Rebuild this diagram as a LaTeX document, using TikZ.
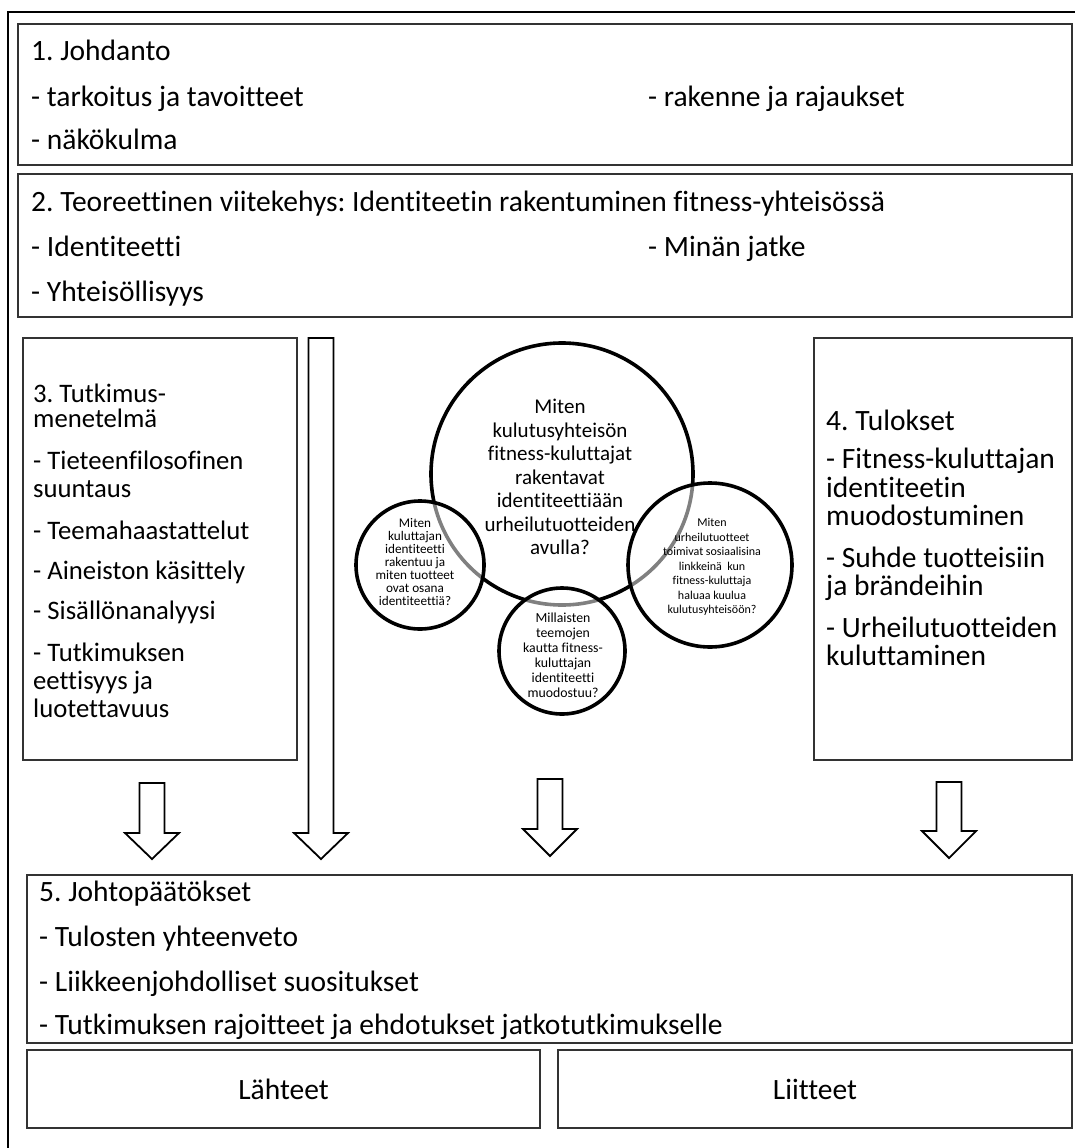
\documentclass[tikz,border=0pt]{standalone}
\usepackage{fontspec}
\setmainfont{Carlito}[Ligatures=NoCommon]
\frenchspacing
\begin{document}
\begin{tikzpicture}[x=1pt,y=-1pt,
  box/.style={draw=black!80, line width=1.3pt, rectangle, inner sep=0pt, outer sep=0pt, anchor=north west},
  txt/.style={inner sep=0pt, anchor=base west, font=\fontsize{29.5}{30}\selectfont},
  txtc/.style={txt, font=\fontsize{26.7}{28}\selectfont},
  txtd/.style={txt, font=\fontsize{29.5}{28}\selectfont},
  bigc/.style={circle, draw=black, line width=3.6pt, inner sep=0pt, minimum size=#1},
  smallc/.style={circle, draw=black, line width=3.6pt, fill=white, fill opacity=0.5, inner sep=0pt, minimum size=#1},
  arr/.style={draw=black, line width=1.8pt, fill=white, line join=miter}
]
\useasboundingbox (0,0) rectangle (1074,1148);
% outer frame
\draw[line width=1.8pt] (8,1170) -- (8,12) -- (1090,12);

% boxes
\node[box, minimum width=1054pt, minimum height=141pt] (b1) at (18,24) {};
\node[box, minimum width=1054pt, minimum height=143pt] (b2) at (18,174) {};
\node[box, minimum width=274pt, minimum height=422pt] (b3) at (23,338) {};
\node[box, minimum width=258pt, minimum height=422pt] (b4) at (814,338) {};
\node[box, minimum width=1045pt, minimum height=168pt] (b5) at (27,875) {};
\node[box, minimum width=513pt, minimum height=78pt, font=\fontsize{29.5}{30}\selectfont] (b6) at (27,1050) {Lähteet};
\node[box, minimum width=514pt, minimum height=78pt, font=\fontsize{29.5}{30}\selectfont] (b7) at (558,1050) {Liitteet};

% box 1 text
\node[txt] (t1a) at (31,61) {1. Johdanto};
\node[txt] (t1b) at (31,106) {- tarkoitus ja tavoitteet};
\node[txt] (t1c) at (648,106) {- rakenne ja rajaukset};
\node[txt] (t1d) at (31,149) {- näkökulma};
% box 2 text
\node[txt] (t2a) at (31,211) {2. Teoreettinen viitekehys: Identiteetin rakentuminen fitness-yhteisössä};
\node[txt] (t2b) at (31,256) {- Identiteetti};
\node[txt] (t2c) at (648,256) {- Minän jatke};
\node[txt] (t2d) at (31,301) {- Yhteisöllisyys};
% box 3 text
\node[txtc] (t3a) at (33,402) {3. Tutkimus-};
\node[txtc] (t3b) at (33,427) {menetelmä};
\node[txtc] (t3c) at (33,469) {- Tieteenfilosofinen};
\node[txtc] (t3d) at (33,497) {suuntaus};
\node[txtc] (t3e) at (33,539) {- Teemahaastattelut};
\node[txtc] (t3f) at (33,579) {- Aineiston käsittely};
\node[txtc] (t3g) at (33,619) {- Sisällönanalyysi};
\node[txtc] (t3h) at (33,661) {- Tutkimuksen};
\node[txtc] (t3i) at (33,689) {eettisyys ja};
\node[txtc] (t3j) at (33,717) {luotettavuus};
% box 4 text
\node[txtd] (t4a) at (826,430) {4. Tulokset};
\node[txtd] (t4b) at (826,468) {- Fitness-kuluttajan};
\node[txtd] (t4c) at (826,497) {identiteetin};
\node[txtd] (t4d) at (826,525) {muodostuminen};
\node[txtd] (t4e) at (826,567) {- Suhde tuotteisiin};
\node[txtd] (t4f) at (826,595) {ja brändeihin};
\node[txtd] (t4g) at (826,637) {- Urheilutuotteiden};
\node[txtd] (t4h) at (826,665) {kuluttaminen};
% box 5 text
\node[txt] (t5a) at (39,901) {5. Johtopäätökset};
\node[txt] (t5b) at (39,946) {- Tulosten yhteenveto};
\node[txt] (t5c) at (39,991) {- Liikkeenjohdolliset suositukset};
\node[txt] (t5d) at (39,1034) {- Tutkimuksen rajoitteet ja ehdotukset jatkotutkimukselle};

% circles
\node[bigc=262pt] (cbig) at (562,474) {};
\node[inner sep=0pt, align=center, font=\fontsize{21}{23.5}\selectfont] (tbig) at (560,477)
  {Miten\\kulutusyhteisön\\fitness-kuluttajat\\rakentavat\\identiteettiään\\urheilutuotteiden\\avulla?};
\node[smallc=128pt] (cleft) at (420,565) {};
\node[smallc=126pt] (cbot) at (562,651) {};
\node[smallc=164pt] (cright) at (710,565) {};
\node[inner sep=0pt, align=center, font=\fontsize{13.2}{12.9}\selectfont] (tleft) at (415,562)
  {Miten\\kuluttajan\\identiteetti\\rakentuu ja\\miten tuotteet\\ovat osana\\identiteettiä?};
\node[inner sep=0pt, align=center, font=\fontsize{13.8}{15}\selectfont] (tbot) at (563,655)
  {Millaisten\\teemojen\\kautta fitness-\\kuluttajan\\identiteetti\\muodostuu?};
\node[inner sep=0pt, align=center, font=\fontsize{12}{14.5}\selectfont] (tright) at (712,567)
  {Miten\\urheilutuotteet\\toimivat sosiaalisina\\linkkeinä\ \ kun\\fitness-kuluttaja\\haluaa kuulua\\kulutusyhteisöön?};

% block arrows
\newcommand\blockarrow[4]{%
  \draw[arr] (#1-12.5,#2) -- (#1+12.5,#2) -- (#1+12.5,#3) -- (#1+27,#3) -- (#1,#4) -- (#1-27,#3) -- (#1-12.5,#3) -- cycle;}
\blockarrow{152}{783}{833}{859}
\blockarrow{321}{338}{833}{859}
\blockarrow{550}{779}{829}{856}
\blockarrow{949}{782}{831}{858}
\end{tikzpicture}
\end{document}
